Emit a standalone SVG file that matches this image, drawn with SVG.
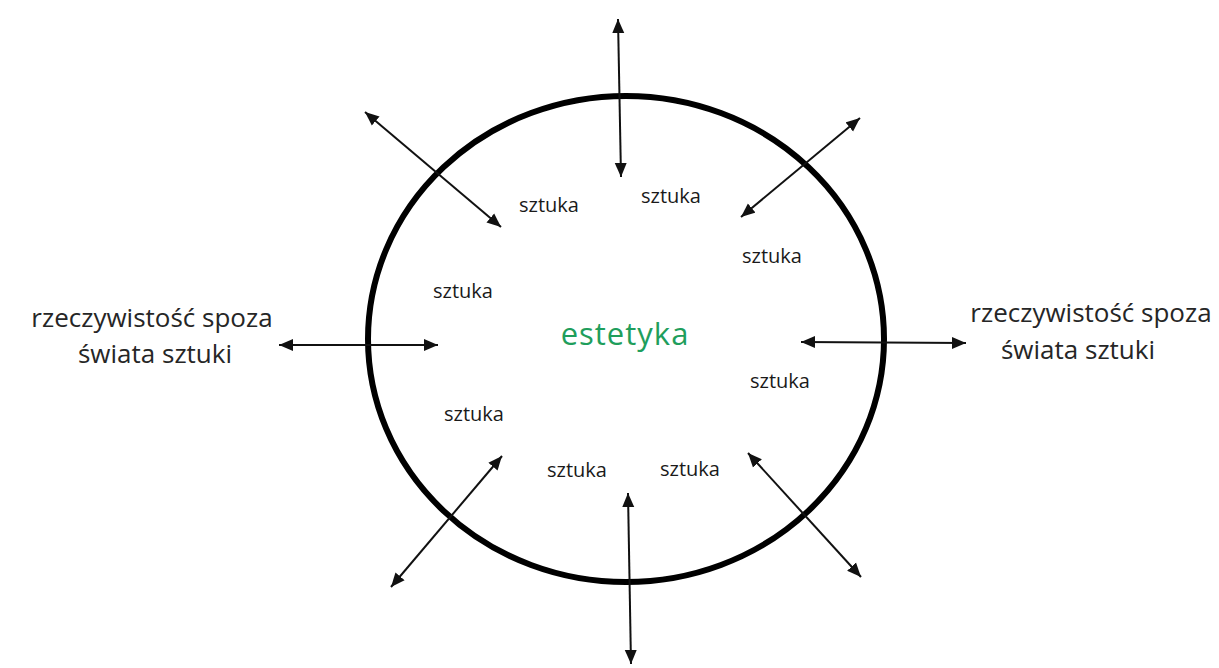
<svg xmlns="http://www.w3.org/2000/svg" width="1219" height="668" viewBox="0 0 1219 668">
  <style>
    .art { font-family: "Open Sans", "Liberation Sans", sans-serif; font-size: 20px; fill: #1a1a1a; text-anchor: middle; }
    .outer { font-family: "Open Sans", "Liberation Sans", sans-serif; font-size: 26px; fill: #262626; text-anchor: middle; }
    .center { font-family: "Open Sans", "Liberation Sans", sans-serif; font-size: 31px; fill: #1f9e5c; text-anchor: middle; letter-spacing: 1px; }
    .conn { stroke: #111; stroke-width: 2; fill: none; marker-start: url(#ah); marker-end: url(#ah); }
  </style>
  <defs>
    <marker id="ah" markerUnits="userSpaceOnUse" markerWidth="15" markerHeight="13" refX="14" refY="6.5" orient="auto-start-reverse" viewBox="0 0 15 13">
      <path d="M0,0.5 L14,6.5 L0,12.5 z" fill="#111"/>
    </marker>
  </defs>
  <rect width="1219" height="668" fill="#ffffff"/>

  <g id="circle-node">
    <ellipse cx="626" cy="339" rx="258" ry="243" fill="none" stroke="#000" stroke-width="6"/>
    <text class="center" x="625" y="345">estetyka</text>
  </g>

  <g id="art-nodes">
    <g id="art1"><text class="art" x="549" y="212">sztuka</text></g>
    <g id="art2"><text class="art" x="671" y="203">sztuka</text></g>
    <g id="art3"><text class="art" x="772" y="263">sztuka</text></g>
    <g id="art4"><text class="art" x="463" y="298">sztuka</text></g>
    <g id="art5"><text class="art" x="780" y="388">sztuka</text></g>
    <g id="art6"><text class="art" x="474" y="421">sztuka</text></g>
    <g id="art7"><text class="art" x="577" y="477">sztuka</text></g>
    <g id="art8"><text class="art" x="690" y="476">sztuka</text></g>
  </g>

  <g id="reality-left">
    <text class="outer" x="152" y="327">rzeczywistość spoza</text>
    <text class="outer" x="155" y="363">świata sztuki</text>
  </g>
  <g id="reality-right">
    <text class="outer" x="1091" y="322">rzeczywistość spoza</text>
    <text class="outer" x="1078" y="359">świata sztuki</text>
  </g>

  <g id="connectors">
    <line class="conn" x1="618" y1="19" x2="621" y2="177"/>
    <line class="conn" x1="628" y1="493" x2="631" y2="664"/>
    <line class="conn" x1="279" y1="345" x2="438" y2="345"/>
    <line class="conn" x1="801" y1="342" x2="966" y2="343"/>
    <line class="conn" x1="365" y1="112" x2="501" y2="227"/>
    <line class="conn" x1="860" y1="118" x2="741" y2="217"/>
    <line class="conn" x1="502" y1="456" x2="391" y2="587"/>
    <line class="conn" x1="748" y1="453" x2="861" y2="577"/>
  </g>
</svg>
